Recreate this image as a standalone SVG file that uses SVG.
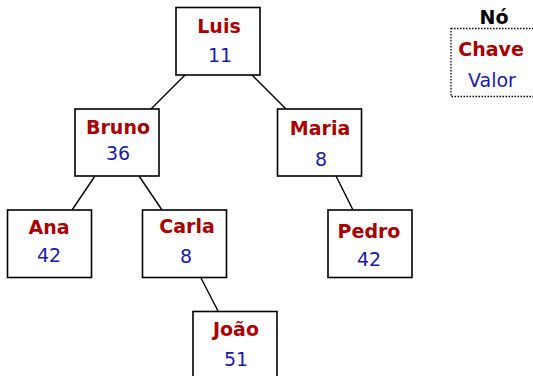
<svg xmlns="http://www.w3.org/2000/svg" width="533" height="376" viewBox="0 0 533 376">
<style>
.box{fill:#fff;stroke:#000;stroke-width:1.6}
.k{font-family:"DejaVu Sans",sans-serif;font-weight:bold;font-size:19px;fill:#aa0000;text-anchor:middle}
.v{font-family:"DejaVu Sans",sans-serif;font-size:19px;fill:#1a1aaa;text-anchor:middle}
.e{stroke:#000;stroke-width:1.4;fill:none}
</style>
<rect width="533" height="376" fill="#fff"/>
<g id="edges">
<line class="e" x1="185" y1="75" x2="151" y2="109"/>
<line class="e" x1="252" y1="75" x2="286" y2="109"/>
<line class="e" x1="95" y1="176" x2="72" y2="210"/>
<line class="e" x1="139" y1="176" x2="162" y2="210"/>
<line class="e" x1="336" y1="176" x2="353" y2="210"/>
<line class="e" x1="201" y1="278" x2="218" y2="311"/>
</g>
<g id="luis"><rect class="box" x="176" y="7.5" width="84" height="67.5"/><text class="k" x="219" y="33">Luis</text><text class="v" x="220" y="62">11</text></g>
<g id="bruno"><rect class="box" x="75" y="109" width="84" height="67"/><text class="k" x="118" y="134">Bruno</text><text class="v" x="118" y="160">36</text></g>
<g id="maria"><rect class="box" x="277.5" y="109" width="84" height="67"/><text class="k" x="320" y="135">Maria</text><text class="v" x="321" y="166">8</text></g>
<g id="ana"><rect class="box" x="7.5" y="210" width="84" height="67.5"/><text class="k" x="49" y="234">Ana</text><text class="v" x="49" y="262">42</text></g>
<g id="carla"><rect class="box" x="142.5" y="210" width="84" height="67.5"/><text class="k" x="187" y="233">Carla</text><text class="v" x="186" y="263">8</text></g>
<g id="pedro"><rect class="box" x="328" y="210" width="84" height="67.5"/><text class="k" x="369" y="238">Pedro</text><text class="v" x="369" y="266">42</text></g>
<g id="joao"><rect class="box" x="193" y="311.5" width="84" height="70"/><text class="k" x="236" y="336">João</text><text class="v" x="236" y="366">51</text></g>
<g id="legend">
<rect x="451" y="28.5" width="90" height="68" fill="none" stroke="#000" stroke-width="1.3" stroke-dasharray="1.5,1.5"/>
<text x="494" y="24" font-family="DejaVu Sans,sans-serif" font-weight="bold" font-size="19" fill="#000" text-anchor="middle">Nó</text>
<text class="k" x="491" y="56">Chave</text>
<text class="v" x="492" y="87">Valor</text>
</g>
</svg>
